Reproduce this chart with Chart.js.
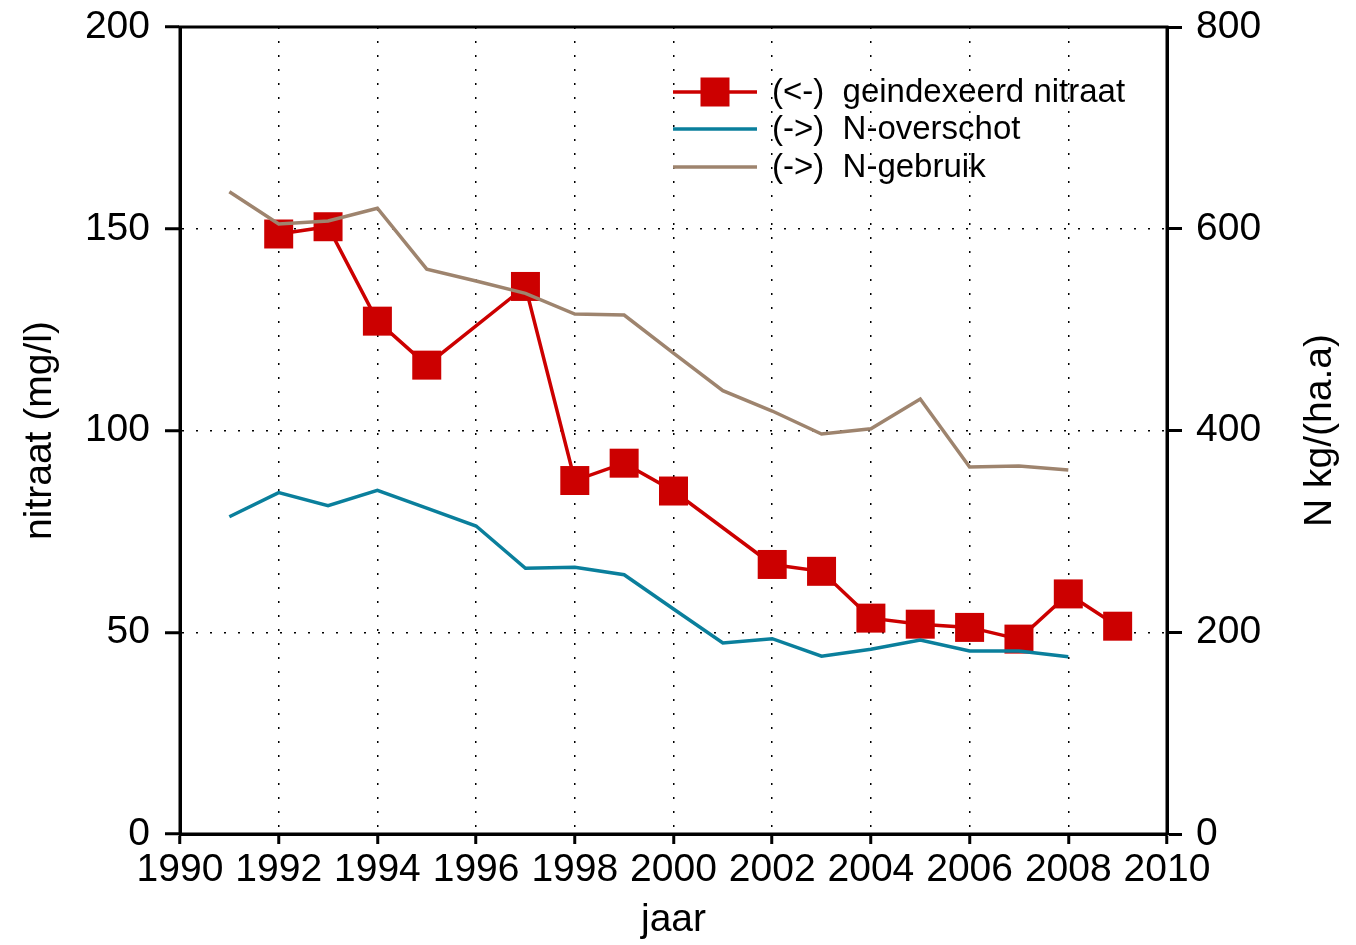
<!DOCTYPE html>
<html>
<head>
<meta charset="utf-8">
<script src="https://cdn.jsdelivr.net/npm/chart.js@4"></script>
<style>
  html, body { margin: 0; padding: 0; background: #fff; }
  #grafiek { display: block; }
</style>
</head>
<body>
<canvas id="grafiek" width="1356" height="945"></canvas>
<script>
// jaren en waarden
const jarenNitraat = [1992, 1993, 1994, 1995, 1997, 1998, 1999, 2000, 2002, 2003, 2004, 2005, 2006, 2007, 2008, 2009];
const nitraat = [148.7, 150.5, 127.1, 116.2, 135.7, 87.6, 91.9, 85.0, 66.8, 65.1, 53.5, 52.0, 51.2, 48.3, 59.5, 51.5];

const jarenN = [1991, 1992, 1993, 1994, 1995, 1996, 1997, 1998, 1999, 2000, 2001, 2002, 2003, 2004, 2005, 2006, 2007, 2008];
const nOverschot = [314.5, 338.4, 325.5, 340.7, 323, 305.3, 263.4, 264.4, 257, 223, 189.3, 193.6, 176.2, 183.1, 192.3, 181.4, 181.4, 175.8];
const nGebruik = [636.7, 604.7, 607.7, 620.3, 560, 548.2, 536, 515.5, 514.5, 476.8, 439.5, 419.3, 396.5, 401.8, 431.2, 363.8, 364.8, 360.8];

const legendaTeksten = ['(<-)  geindexeerd nitraat', '(->)  N-overschot', '(->)  N-gebruik'];
const xTitel = 'jaar';
const yTitelLinks = 'nitraat (mg/l)';
const yTitelRechts = 'N kg/(ha.a)';

const ROOD = '#cc0000';
const BLAUW = '#0a7f9c';
const BRUIN = '#9e846e';
const FONT = '"Liberation Sans", Arial, sans-serif';

function punten(xs, ys) {
    return xs.map((x, i) => ({ x: x, y: ys[i] }));
}

// y-assen: vaste breedte, geen extra ruimte boven/onder voor de labels
function yAsPassen(breedte) {
    return s => {
        s.width = breedte;
        s.paddingTop = 0;
        s.paddingBottom = 0;
    };
}

// kader, legenda en astitels zelf tekenen
const extraTekenen = {
    id: 'extraTekenen',
    afterDraw(chart) {
        const ctx = chart.ctx;
        const a = chart.chartArea;
        ctx.save();
        ctx.strokeStyle = '#000';
        ctx.lineWidth = 3;
        ctx.strokeRect(a.left, a.top, a.right - a.left, a.bottom - a.top);

        // legenda
        const kleuren = [ROOD, BLAUW, BRUIN];
        const x0 = a.left + 493;
        const x1 = a.left + 577;
        const rijen = [a.top + 65, a.top + 102, a.top + 140];
        ctx.font = '33px ' + FONT;
        ctx.textBaseline = 'middle';
        ctx.textAlign = 'left';
        legendaTeksten.forEach((t, i) => {
            ctx.strokeStyle = kleuren[i];
            ctx.lineWidth = 3.5;
            ctx.beginPath();
            ctx.moveTo(x0, rijen[i]);
            ctx.lineTo(x1, rijen[i]);
            ctx.stroke();
            if (i === 0) {
                ctx.fillStyle = ROOD;
                ctx.fillRect((x0 + x1) / 2 - 14.5, rijen[i] - 14.5, 29, 29);
            }
            ctx.fillStyle = '#000';
            ctx.fillText(t, x1 + 15, rijen[i] + 1);
        });

        // astitels
        ctx.font = '39px ' + FONT;
        ctx.fillStyle = '#000';
        ctx.textAlign = 'center';
        ctx.textBaseline = 'middle';
        ctx.fillText(xTitel, (a.left + a.right) / 2, 920);

        const midY = (a.top + a.bottom) / 2;
        ctx.save();
        ctx.translate(40, midY);
        ctx.rotate(-Math.PI / 2);
        ctx.fillText(yTitelLinks, 0, 0);
        ctx.restore();

        ctx.save();
        ctx.translate(1320, midY);
        ctx.rotate(-Math.PI / 2);
        ctx.fillText(yTitelRechts, 0, 0);
        ctx.restore();
        ctx.restore();
    }
};

const grafiek = new Chart(document.getElementById('grafiek'), {
    type: 'line',
    data: {
        datasets: [
            {
                label: legendaTeksten[0],
                data: punten(jarenNitraat, nitraat),
                yAxisID: 'yLinks',
                borderColor: ROOD,
                borderWidth: 3.5,
                pointStyle: 'rect',
                pointRadius: 20.5,
                pointHoverRadius: 20.5,
                pointBackgroundColor: ROOD,
                pointBorderWidth: 0,
                tension: 0,
                order: 3
            },
            {
                label: legendaTeksten[1],
                data: punten(jarenN, nOverschot),
                yAxisID: 'yRechts',
                borderColor: BLAUW,
                borderWidth: 3.5,
                pointRadius: 0,
                tension: 0,
                order: 2
            },
            {
                label: legendaTeksten[2],
                data: punten(jarenN, nGebruik),
                yAxisID: 'yRechts',
                borderColor: BRUIN,
                borderWidth: 3.5,
                pointRadius: 0,
                tension: 0,
                order: 1
            }
        ]
    },
    options: {
        responsive: false,
        animation: false,
        layout: { padding: { top: 27, left: 0, right: 0, bottom: 0 } },
        plugins: {
            legend: { display: false },
            tooltip: { enabled: false }
        },
        scales: {
            x: {
                type: 'linear',
                min: 1990,
                max: 2010,
                afterFit: s => { s.height = 111; },
                ticks: {
                    stepSize: 2,
                    color: '#000',
                    padding: 3,
                    maxRotation: 0,
                    font: { family: FONT, size: 39 },
                    callback: v => String(v)
                },
                grid: {
                    color: '#000',
                    lineWidth: 1.5,
                    tickLength: 10,
                    tickWidth: 3,
                    tickColor: '#000'
                },
                border: { display: true, color: '#000', width: 3, dash: [2, 12] }
            },
            yLinks: {
                position: 'left',
                min: 0,
                max: 200,
                afterFit: yAsPassen(180),
                ticks: {
                    stepSize: 50,
                    color: '#000',
                    padding: 15,
                    font: { family: FONT, size: 39 }
                },
                grid: {
                    color: '#000',
                    lineWidth: 1.5,
                    tickLength: 15,
                    tickWidth: 3,
                    tickColor: '#000'
                },
                border: { display: true, color: '#000', width: 3, dash: [2, 12] }
            },
            yRechts: {
                position: 'right',
                min: 0,
                max: 800,
                afterFit: yAsPassen(189),
                ticks: {
                    stepSize: 200,
                    color: '#000',
                    padding: 14,
                    font: { family: FONT, size: 39 }
                },
                grid: {
                    drawOnChartArea: false,
                    tickLength: 15,
                    tickWidth: 3,
                    tickColor: '#000'
                },
                border: { display: true, color: '#000', width: 3 }
            }
        }
    },
    plugins: [extraTekenen]
});
</script>
</body>
</html>
